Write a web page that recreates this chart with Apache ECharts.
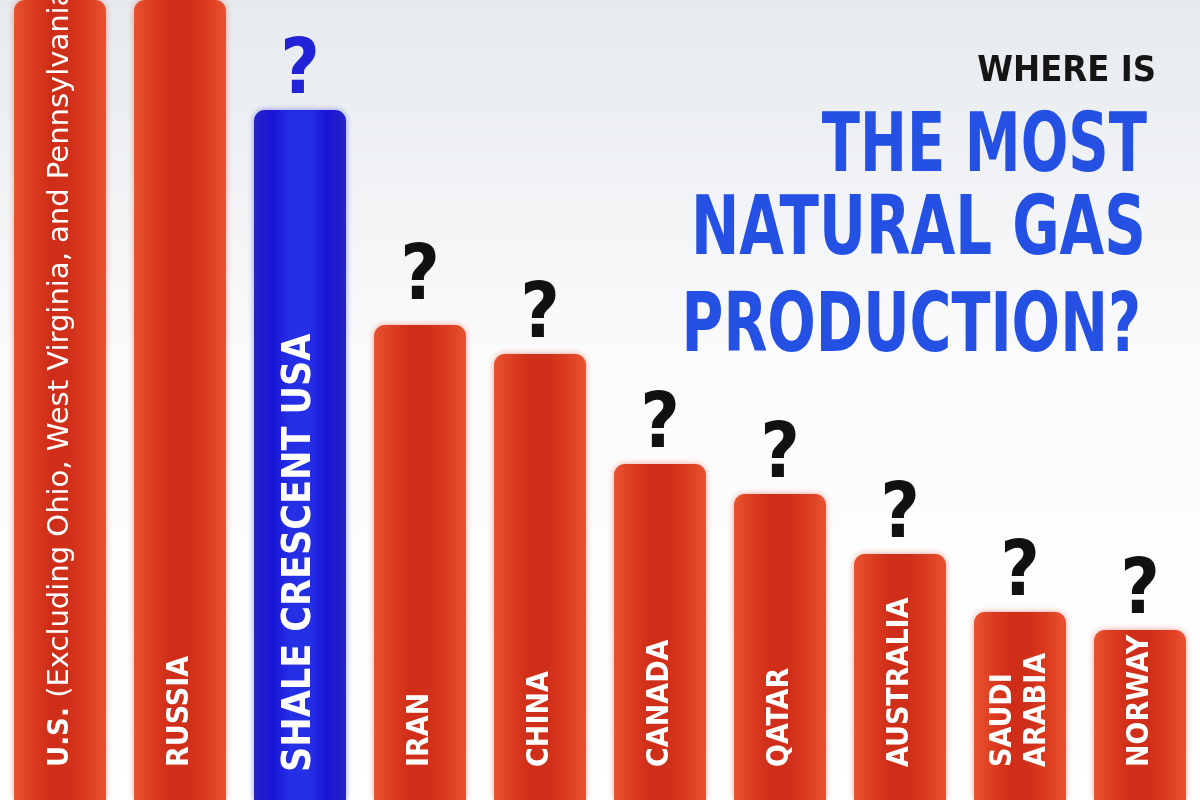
<!DOCTYPE html>
<html>
<head>
<meta charset="utf-8">
<script src="https://cdn.jsdelivr.net/npm/echarts@6/dist/echarts.min.js"></script>
<style>html,body{margin:0;padding:0;background:#fff}#c{width:1200px;height:800px}</style>
</head>
<body>
<div id="c"></div>
<script>
const categories = ['U.S. (Excluding Ohio, West Virginia, and Pennsylvania)', 'RUSSIA', 'SHALE CRESCENT USA', 'IRAN', 'CHINA', 'CANADA', 'QATAR', 'AUSTRALIA', 'SAUDI\nARABIA', 'NORWAY'];
const production = [130, 105, 69, 47.5, 44.6, 33.6, 30.6, 24.6, 18.8, 17.0];
const highlight = [false, false, true, false, false, false, false, false, false, false];
const questionMarks = ['', '', '?', '?', '?', '?', '?', '?', '?', '?'];
const titleLines = ['WHERE IS', 'THE MOST', 'NATURAL GAS', 'PRODUCTION?'];

const COND = '"DejaVu Sans Condensed", "DejaVu Sans", sans-serif';
const WIDE = '"DejaVu Sans", sans-serif';

function hGrad(stops) {
  return {type: 'linear', x: 0, y: 0, x2: 1, y2: 0,
    colorStops: stops.map((c, i) => ({offset: i / (stops.length - 1), color: c}))};
}
const redGrad = hGrad(['#e85330', '#dc3d20', '#cf2d18', '#d0301a', '#dc3d20', '#e85330']);
const blueGrad = hGrad(['#2424c4', '#1a14d6', '#2530e6', '#2530e6', '#1a14d6', '#2424c4']);

const barData = production.map((v, i) => {
  const item = {
    value: v,
    itemStyle: {
      color: highlight[i] ? blueGrad : redGrad,
      shadowColor: highlight[i] ? 'rgba(40,40,220,0.5)' : 'rgba(230,70,40,0.5)',
      shadowBlur: 6
    },
    label: {}
  };
  if (i === 0) {
    item.label = {
      offset: [-9, 0],
      formatter: '{b|U.S.} {r|(Excluding Ohio, West Virginia, and Pennsylvania)}',
      rich: {
        b: {fontSize: 29, fontWeight: 'bold', color: '#fff', fontFamily: COND},
        r: {fontSize: 29, fontWeight: 'normal', color: '#fff', fontFamily: WIDE}
      }
    };
  } else if (highlight[i]) {
    item.label = {fontSize: 39, distance: 28};
  }
  return item;
});

const qData = production.map((v, i) => ({
  value: v,
  label: {
    color: highlight[i] ? '#2222d8' : '#111111',
    distance: i === 3 ? 7 : -2
  }
}));

const chart = echarts.init(document.getElementById('c'));
const titleSpecs = [
  {size: 36, y: 54, x: 1156, font: COND, color: '#151515', sx: 1},
  {size: 82, y: 109, x: 1147, font: WIDE, sx: 0.684},
  {size: 82, y: 192, x: 1146, font: WIDE, sx: 0.705},
  {size: 82, y: 289, x: 1141, font: WIDE, sx: 0.696}
];
const titleGraphics = titleLines.map((t, i) => {
  const s = titleSpecs[i];
  return {
    type: 'text',
    x: s.x,
    y: s.y,
    scaleX: s.sx,
    z: 10,
    style: {
      text: t,
      textAlign: 'right',
      textVerticalAlign: 'top',
      font: 'bold ' + s.size + 'px ' + s.font,
      fill: s.color || '#2450e4'
    }
  };
});

chart.setOption({
  backgroundColor: {type: 'linear', x: 0, y: 0, x2: 0, y2: 1,
    colorStops: [{offset: 0, color: '#e6eaee'}, {offset: 0.45, color: '#fbfbfc'}, {offset: 1, color: '#ffffff'}]},
  animation: false,
  grid: {left: -7, right: -4, top: 0, bottom: 0},
  xAxis: {type: 'category', data: categories, show: false},
  yAxis: {type: 'value', min: 0, max: 80, show: false},
  graphic: titleGraphics,
  series: [
    {
      type: 'bar',
      data: barData,
      barWidth: 92,
      itemStyle: {borderRadius: [11, 11, 0, 0]},
      label: {
        show: true,
        position: 'insideBottom',
        rotate: 90,
        align: 'left',
        verticalAlign: 'middle',
        distance: 33,
        color: '#fff',
        fontFamily: COND,
        fontWeight: 'bold',
        fontSize: 30,
        lineHeight: 34,
        overflow: 'none',
        formatter: p => p.name
      },
      labelLayout: {hideOverlap: false}
    },
    {
      type: 'scatter',
      data: qData,
      symbolSize: 1,
      itemStyle: {color: 'rgba(0,0,0,0)', opacity: 1},
      z: 5,
      label: {
        show: true,
        position: 'top',
        fontFamily: COND,
        fontWeight: 'bold',
        fontSize: 76,
        formatter: p => questionMarks[p.dataIndex]
      }
    }
  ]
});
</script>
</body>
</html>
